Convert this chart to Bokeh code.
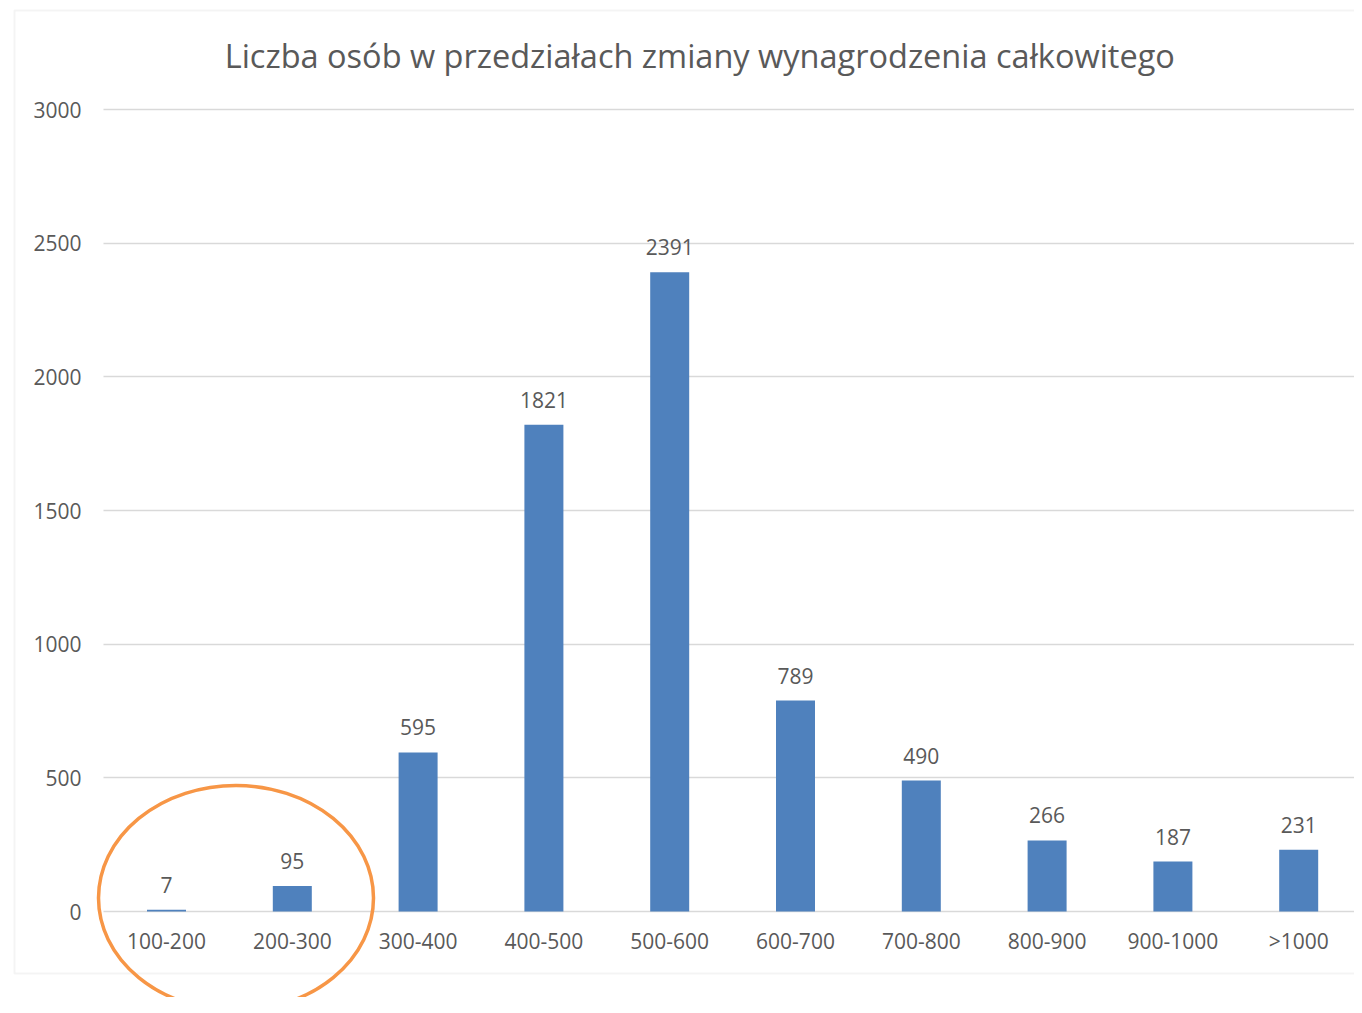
from bokeh.plotting import figure
from bokeh.models import Range1d, FixedTicker, BoxAnnotation, Label, ColumnDataSource
from bokeh.embed import file_html
from bokeh.resources import INLINE
from bokeh.core.properties import value

categories = ["100-200", "200-300", "300-400", "400-500", "500-600",
              "600-700", "700-800", "800-900", "900-1000", ">1000"]
counts = [7, 95, 595, 1821, 2391, 789, 490, 266, 187, 231]
y_ticks = [0, 500, 1000, 1500, 2000, 2500, 3000]
title_text = "Liczba osób w przedziałach  zmiany wynagrodzenia całkowitego"

FONT = "Open Sans"
TXT = "#595959"
W, H = 1354, 997

# page-pixel geometry helpers
PX_CAT = 125.8
X0 = 166.0
PX_UNIT = 802.0 / 3000.0
Y0 = 911.0


def xd(px):
    return (px - X0) / PX_CAT


def yd(py):
    return (Y0 - py) / PX_UNIT


xs = list(range(len(categories)))
src = ColumnDataSource(dict(x=xs, top=counts, lbl=[str(c) for c in counts]))

p = figure(width=W, height=H, output_backend="svg", toolbar_location=None, tools="",
           x_range=Range1d(xd(0), xd(W)), y_range=Range1d(yd(H), yd(0)),
           min_border=0, min_border_left=0, min_border_right=0,
           min_border_top=0, min_border_bottom=0)
p.outline_line_color = None
p.background_fill_color = "white"
p.border_fill_color = "white"

# grid
p.xgrid.visible = False
p.ygrid.ticker = FixedTicker(ticks=y_ticks)
p.ygrid.grid_line_color = "#d9d9d9"
p.ygrid.grid_line_width = 1.6
p.ygrid.cross_bounds = (xd(103), xd(1362))

# y axis
p.yaxis.fixed_location = xd(103)
p.yaxis.ticker = FixedTicker(ticks=y_ticks)
p.yaxis.axis_line_color = None
p.yaxis.major_tick_line_color = None
p.yaxis.minor_tick_line_color = None
p.yaxis.major_label_standoff = 16
p.yaxis.major_label_text_font = FONT
p.yaxis.major_label_text_font_size = "21px"
p.yaxis.major_label_text_color = TXT

# x axis
p.xaxis.fixed_location = 0
p.xaxis.ticker = FixedTicker(ticks=xs)
p.xaxis.major_label_overrides = {i: c for i, c in zip(xs, categories)}
p.xaxis.axis_line_color = None
p.xaxis.major_tick_line_color = None
p.xaxis.minor_tick_line_color = None
p.xaxis.major_label_standoff = 9
p.xaxis.major_label_text_font = FONT
p.xaxis.major_label_text_font_size = "21px"
p.xaxis.major_label_text_color = TXT

# bars
p.vbar(x="x", top="top", width=0.31, source=src, fill_color="#4f81bd", line_color=None)
p.text(x="x", y="top", text="lbl", source=src, text_align="center", text_baseline="bottom",
       y_offset=-17, text_font=value(FONT), text_font_size=value("21px"), text_color=TXT)

# outer chart border
p.add_layout(BoxAnnotation(left=xd(14), right=xd(1380), top=yd(10), bottom=yd(973),
                           fill_color=None, fill_alpha=0, line_color="#d9d9d9", line_width=2,
                           level="underlay"))

# title
p.add_layout(Label(x=xd(703.5), y=yd(55), text=title_text, text_align="center",
                   text_baseline="middle", text_font=FONT, text_font_size="32.5px",
                   text_color=TXT))

# orange highlight ellipse
p.ellipse(x=xd(235.5), y=yd(897.5), width=275 / PX_CAT, height=225 / PX_UNIT,
          fill_color=None, line_color="#f79646", line_width=3.5)

open("out.html", "w").write(file_html(p, INLINE))
